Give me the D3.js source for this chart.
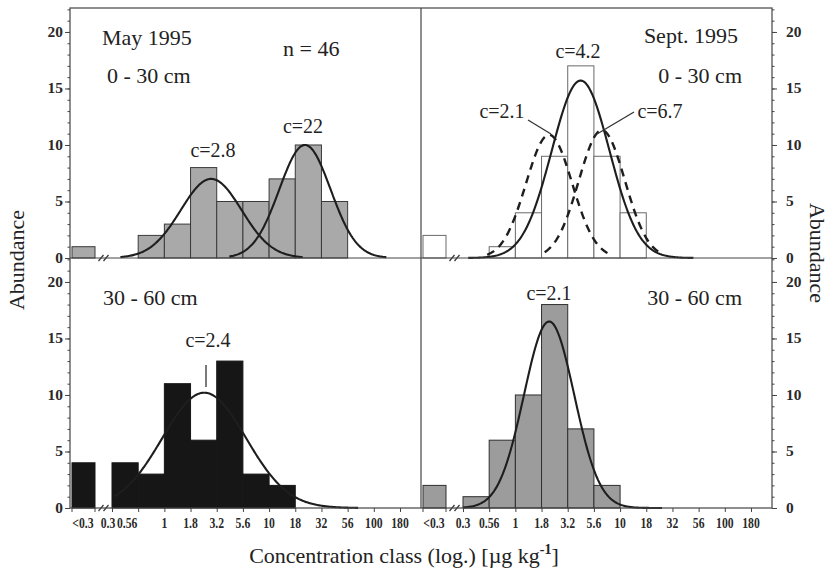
<!DOCTYPE html>
<html>
<head>
<meta charset="utf-8">
<script src="https://cdn.jsdelivr.net/npm/d3@7"></script>
<style>
body { margin: 0; background: #fff; }
svg { display: block; }
</style>
</head>
<body>
<svg id="chart" width="832" height="574"></svg>
<script>
// concentration class edges (log axis tick labels)
var classLabels = ["0.3", "0.56", "1", "1.8", "3.2", "5.6", "10", "18", "32", "56", "100", "180"];
var lowLabel = "<0.3";
var yTicks = [0, 5, 10, 15, 20];

// abundance per class: [<0.3, 0.3-0.56, 0.56-1, 1-1.8, 1.8-3.2, 3.2-5.6, 5.6-10, 10-18, 18-32, 32-56]
var may0_30 = [1, 0, 2, 3, 8, 5, 5, 7, 10, 5];
var sep0_30 = [2, 0, 1, 4, 9, 17, 9, 4];
var may30_60 = [4, 4, 3, 11, 6, 13, 3, 2];
var sep30_60 = [2, 1, 6, 10, 18, 7, 2];

// fitted curves (log-normal): centre c, peak height, sd in log10 units, drawn range (log10)
var fitsMay0_30 = [
    {c: 2.8, peak: 7.0, sd: 0.29, from: -0.42, to: 1.32},
    {c: 22, peak: 10.0, sd: 0.245, from: 0.62, to: 2.12}
];
var fitsSep0_30 = [
    {c: 4.2, peak: 15.7, sd: 0.275, from: -0.45, to: 1.7},
    {c: 2.1, peak: 10.9, sd: 0.22, from: -0.27, to: 0.92, dashed: true},
    {c: 6.7, peak: 11.3, sd: 0.22, from: 0.28, to: 1.38, dashed: true}
];
var fitsMay30_60 = [
    {c: 2.4, peak: 10.2, sd: 0.40, from: -0.48, to: 1.85}
];
var fitsSep30_60 = [
    {c: 2.1, peak: 16.5, sd: 0.24, from: -0.5, to: 1.4}
];

var SERIF = '"Liberation Serif", "Times New Roman", Times, "DejaVu Serif", serif';

var svg = d3.select("#chart");

// frame
var L = 70, M = 421, R = 772, T = 8, H = 258, B = 508;
var panelW = M - L, panelH = H - T;

var panels = [
    {x0: L, y0: T, counts: may0_30, fits: fitsMay0_30, fill: "#a9a9a9", stroke: "#3a3a3a", side: "left", bottom: false},
    {x0: M, y0: T, counts: sep0_30, fits: fitsSep0_30, fill: "#ffffff", stroke: "#6a6a6a", side: "right", bottom: false},
    {x0: L, y0: H, counts: may30_60, fits: fitsMay30_60, fill: "#161616", stroke: "#161616", side: "left", bottom: true},
    {x0: M, y0: H, counts: sep30_60, fits: fitsSep30_60, fill: "#9c9c9c", stroke: "#2e2e2e", side: "right", bottom: true}
];

function gauss(f, u) {
    var d = u - Math.log10(f.c);
    return f.peak * Math.exp(-d * d / (2 * f.sd * f.sd));
}

// small bold tick label, squeezed or stretched sideways
function tickLabel(g, x, y, txt, sx, size, anchor) {
    g.append("text")
        .attr("transform", "translate(" + x + "," + y + ") scale(" + sx + ",1)")
        .attr("text-anchor", anchor || "middle")
        .style("font-family", SERIF)
        .style("font-size", size + "px")
        .style("font-weight", "bold")
        .style("fill", "#2a2a2a")
        .text(txt);
}

panels.forEach(function(p) {
    var g = svg.append("g");
    var edgeX = d3.scalePoint().domain(classLabels).range([p.x0 + 42, p.x0 + 330]);
    var logX = d3.scaleLinear().domain([-0.5, 2.25]).range([p.x0 + 42, p.x0 + 330]);
    var lowBand = [p.x0 + 2, p.x0 + 25];
    var y = d3.scaleLinear().domain([0, 22.12]).range([p.y0 + panelH, p.y0]);

    // bars
    var bars = p.counts.map(function(v, i) {
        if (i == 0) return {x1: lowBand[0], x2: lowBand[1], v: v};
        return {x1: edgeX(classLabels[i - 1]), x2: edgeX(classLabels[i]), v: v};
    }).filter(function(d) { return d.v > 0; });

    g.selectAll(".bar")
        .data(bars)
        .enter().append("rect")
        .attr("class", "bar")
        .attr("x", function(d) { return d.x1; })
        .attr("y", function(d) { return y(d.v); })
        .attr("width", function(d) { return d.x2 - d.x1; })
        .attr("height", function(d) { return y(0) - y(d.v); })
        .style("fill", p.fill)
        .style("stroke", p.stroke)
        .style("stroke-width", 1);

    // fitted curves
    var line = d3.line()
        .x(function(d) { return logX(d.u); })
        .y(function(d) { return y(d.v); });

    p.fits.forEach(function(f) {
        var pts = d3.range(f.from, f.to + 1e-9, 0.01).map(function(u) { return {u: u, v: gauss(f, u)}; });
        g.append("path")
            .attr("d", line(pts))
            .style("fill", "none")
            .style("stroke", "#1e1e1e")
            .style("stroke-width", f.dashed ? 2.4 : 2.1)
            .style("stroke-dasharray", f.dashed ? "8,6" : null);
    });

    // y axis with minor ticks
    var axisX = p.side == "left" ? p.x0 : p.x0 + panelW;
    var mk = p.side == "left" ? d3.axisLeft : d3.axisRight;
    var minor = g.append("g").attr("transform", "translate(" + axisX + ",0)")
        .call(mk(y).tickValues(d3.range(0, 23)).tickSize(2.5).tickFormat(""));
    var major = g.append("g").attr("transform", "translate(" + axisX + ",0)")
        .call(mk(y).tickValues(yTicks).tickSize(5).tickFormat(""));
    [minor, major].forEach(function(a) {
        a.select(".domain").remove();
        a.selectAll("line").style("stroke", "#444");
    });
    yTicks.forEach(function(v) {
        tickLabel(g, p.side == "left" ? axisX - 7 : axisX + 14, y(v) + 5, v, 1.1, 14,
            p.side == "left" ? "end" : "start");
    });

    // x axis (bottom row only)
    if (p.bottom) {
        var xa = g.append("g").attr("transform", "translate(0," + B + ")")
            .call(d3.axisBottom(edgeX).tickSize(4).tickFormat(""));
        xa.select(".domain").remove();
        xa.selectAll("line").style("stroke", "#444");
        classLabels.forEach(function(d) {
            var shift = 0;
            if (p.side == "left" && d == "0.3") shift = -4;
            if (p.side == "left" && d == "0.56") shift = -11;
            tickLabel(g, edgeX(d) + shift, B + 20, d, 0.78, 15);
        });
        lowBand.forEach(function(bx) {
            g.append("line").attr("x1", bx).attr("x2", bx).attr("y1", B).attr("y2", B + 4).style("stroke", "#444");
        });
        tickLabel(g, p.x0 + 13, B + 20, lowLabel, 0.78, 15);
    }

    // axis break marks on the zero line
    var by = y(0);
    g.append("rect").attr("x", p.x0 + 29).attr("y", by - 1.5).attr("width", 9).attr("height", 3).style("fill", "#fff");
    [p.x0 + 31, p.x0 + 36].forEach(function(bx) {
        g.append("line")
            .attr("x1", bx - 2.5).attr("y1", by + 3)
            .attr("x2", bx + 2.5).attr("y2", by - 3)
            .style("stroke", "#333").style("stroke-width", 1.2);
    });
});

// frame lines
var frame = svg.append("g").style("stroke", "#444").style("stroke-width", 1.2).style("fill", "none");
frame.append("rect").attr("x", L).attr("y", T).attr("width", R - L).attr("height", B - T);
frame.append("line").attr("x1", L).attr("x2", R).attr("y1", H).attr("y2", H);
frame.append("line").attr("x1", M).attr("x2", M).attr("y1", T).attr("y2", B);

// annotations
function note(x, y, txt, size, anchor) {
    return svg.append("text")
        .attr("x", x).attr("y", y)
        .attr("text-anchor", anchor || "start")
        .style("font-family", SERIF)
        .style("font-size", size + "px")
        .style("fill", "#222")
        .text(txt);
}

note(102, 45, "May 1995", 22);
note(107, 83, "0 - 30 cm", 22);
note(283, 56, "n = 46", 22);
note(213, 157, "c=2.8", 20, "middle");
note(303, 133, "c=22", 20, "middle");

note(738, 43, "Sept. 1995", 22, "end");
note(742, 83, "0 - 30 cm", 22, "end");
note(578, 58, "c=4.2", 20, "middle");
note(502, 118, "c=2.1", 20, "middle");
note(660, 118, "c=6.7", 20, "middle");

note(103, 305, "30 - 60 cm", 22);
note(208, 347, "c=2.4", 20, "middle");
note(549, 300, "c=2.1", 20, "middle");
note(742, 305, "30 - 60 cm", 22, "end");

var leaders = svg.append("g").style("stroke", "#333").style("stroke-width", 1.3);
leaders.append("line").attr("x1", 528).attr("y1", 120).attr("x2", 551).attr("y2", 134);
leaders.append("line").attr("x1", 634).attr("y1", 112).attr("x2", 597).attr("y2", 134);
leaders.append("line").attr("x1", 206).attr("y1", 365).attr("x2", 206).attr("y2", 387);

// axis titles
note(0, 0, "Abundance", 22, "middle").attr("transform", "translate(24,260) rotate(-90)");
note(0, 0, "Abundance", 22, "middle").attr("transform", "translate(810,253) rotate(90)");

var title = note(404, 563, "", 22, "middle");
title.append("tspan").text("Concentration class (log.)  [µg kg");
title.append("tspan").attr("dy", -9).style("font-size", "14px").style("font-weight", "bold").text("-1");
title.append("tspan").attr("dy", 9).text("]");
</script>
</body>
</html>
